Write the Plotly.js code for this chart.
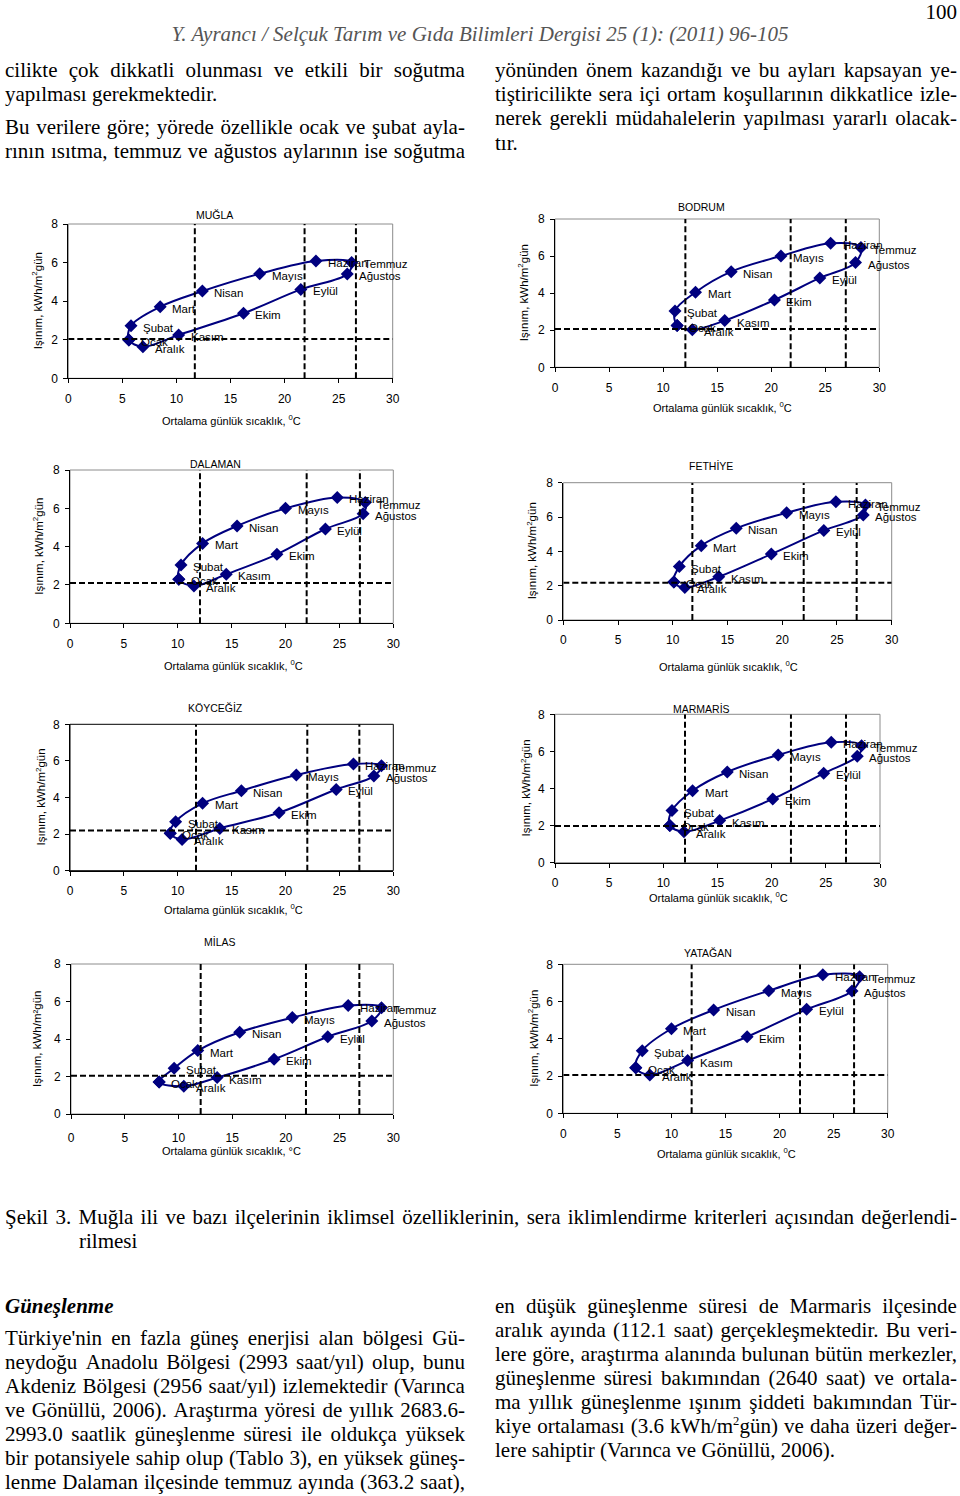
<!DOCTYPE html>
<html><head><meta charset="utf-8">
<script src="https://cdn.plot.ly/plotly-3.0.1.min.js"></script>
<style>
body{margin:0;background:#fff;}
#page{position:relative;width:960px;height:1496px;overflow:hidden;background:#fff;}
#plot{position:absolute;left:0;top:0;width:960px;height:1496px;}
.t{position:absolute;font-family:"Liberation Serif","Times New Roman",serif;font-size:21px;line-height:24px;color:#000;white-space:nowrap;}
.j{display:flex;justify-content:space-between;}
.t sup{font-size:0.6em;line-height:0;vertical-align:super;}
</style></head><body><div id="page"><div id="plot"></div></div>
<script>
// ---------- DATA ----------
const months = ["Ocak","Şubat","Mart","Nisan","Mayıs","Haziran","Temmuz","Ağustos","Eylül","Ekim","Kasım","Aralık"];
const stations = ["MUĞLA","BODRUM","DALAMAN","FETHİYE","KÖYCEĞİZ","MARMARİS","MİLAS","YATAĞAN"];

// mean daily temperature (°C) by month
const mugla_temp    = [5.6, 5.8, 8.5, 12.4, 17.7, 22.9, 26.2, 25.8, 21.5, 16.2, 10.2, 6.9];
const bodrum_temp   = [11.3, 11.1, 13.0, 16.3, 20.9, 25.5, 28.3, 27.8, 24.5, 20.3, 15.7, 12.7];
const dalaman_temp  = [10.1, 10.3, 12.3, 15.5, 20.0, 24.8, 27.4, 27.2, 23.7, 19.2, 14.5, 11.5];
const fethiye_temp  = [10.1, 10.6, 12.6, 15.8, 20.4, 24.9, 27.6, 27.4, 23.8, 19.0, 14.2, 11.1];
const koycegiz_temp = [9.3, 9.8, 12.3, 15.9, 21.0, 26.3, 28.9, 28.2, 24.7, 19.4, 13.9, 10.4];
const marmaris_temp = [10.6, 10.8, 12.7, 15.9, 20.6, 25.5, 28.3, 27.9, 24.8, 20.1, 15.2, 11.9];
const milas_temp    = [8.2, 9.6, 11.8, 15.7, 20.6, 25.8, 28.9, 28.0, 23.9, 18.9, 13.6, 10.5];
const yatagan_temp  = [6.7, 7.3, 10.0, 13.9, 19.0, 24.0, 27.4, 26.7, 22.5, 17.0, 11.5, 8.0];

// solar radiation (kWh/m2 gün) by month
const mugla_rad    = [1.99, 2.73, 3.71, 4.52, 5.42, 6.08, 6.01, 5.41, 4.61, 3.37, 2.25, 1.64];
const bodrum_rad   = [2.25, 3.04, 4.05, 5.16, 6.00, 6.69, 6.46, 5.65, 4.82, 3.63, 2.52, 2.02];
const dalaman_rad  = [2.30, 3.04, 4.17, 5.08, 6.00, 6.57, 6.30, 5.72, 4.92, 3.60, 2.56, 1.95];
const fethiye_rad  = [2.21, 3.11, 4.33, 5.34, 6.25, 6.89, 6.70, 6.12, 5.22, 3.84, 2.52, 1.90];
const koycegiz_rad = [2.04, 2.68, 3.68, 4.37, 5.23, 5.83, 5.74, 5.17, 4.44, 3.17, 2.31, 1.71];
const marmaris_rad = [2.01, 2.81, 3.88, 4.89, 5.81, 6.49, 6.31, 5.74, 4.82, 3.44, 2.27, 1.67];
const milas_rad    = [1.71, 2.44, 3.38, 4.36, 5.14, 5.78, 5.67, 4.96, 4.12, 2.92, 1.94, 1.48];
const yatagan_rad  = [2.45, 3.36, 4.54, 5.55, 6.58, 7.44, 7.33, 6.57, 5.58, 4.11, 2.83, 2.06];

// criteria reference lines (temperature limits, radiation limit)
const mugla_vlines    = [11.7, 21.85, 26.6];   const mugla_hline = 2.04;
const bodrum_vlines   = [12.06, 21.8, 26.9];   const bodrum_hline = 2.07;
const dalaman_vlines  = [12.06, 21.96, 26.9];  const dalaman_hline = 2.1;
const fethiye_vlines  = [11.79, 21.96, 26.8];  const fethiye_hline = 2.17;
const koycegiz_vlines = [11.69, 22.02, 26.85]; const koycegiz_hline = 2.19;
const marmaris_vlines = [12.0, 21.78, 26.86];  const marmaris_hline = 1.98;
const milas_vlines    = [12.07, 21.87, 26.84]; const milas_hline = 2.04;
const yatagan_vlines  = [11.87, 21.89, 26.89]; const yatagan_hline = 2.06;

const xTicks = [0, 5, 10, 15, 20, 25, 30];
const yTicks = [0, 2, 4, 6, 8];

// ---------- LAYOUT CONFIG (pixels) ----------
const W = 960, H = 1496;
const charts = [
  {t: mugla_temp, r: mugla_rad, v: mugla_vlines, h: mugla_hline, box: [68.3, 392.7, 224, 378.3], title: [214, 215], xt: [231, 420], yt: 37, frame: "#8c8c8c"},
  {t: bodrum_temp, r: bodrum_rad, v: bodrum_vlines, h: bodrum_hline, box: [555, 879.3, 219, 367.3], title: [701, 207], xt: [722, 407], yt: 523, frame: "#8c8c8c"},
  {t: dalaman_temp, r: dalaman_rad, v: dalaman_vlines, h: dalaman_hline, box: [70, 393.3, 470, 623.3], title: [215, 464], xt: [233, 665], yt: 38, frame: "#8c8c8c"},
  {t: fethiye_temp, r: fethiye_rad, v: fethiye_vlines, h: fethiye_hline, box: [563.3, 891.7, 482.7, 620], title: [711, 466], xt: [728, 666], yt: 532, frame: "#8c8c8c"},
  {t: koycegiz_temp, r: koycegiz_rad, v: koycegiz_vlines, h: koycegiz_hline, box: [70, 393.3, 724.3, 870.7], title: [215, 708], xt: [233, 909], yt: 40, frame: "#000000"},
  {t: marmaris_temp, r: marmaris_rad, v: marmaris_vlines, h: marmaris_hline, box: [555, 880, 714.3, 862.7], title: [701, 709], xt: [718, 897], yt: 525, frame: "#8c8c8c"},
  {t: milas_temp, r: milas_rad, v: milas_vlines, h: milas_hline, box: [71, 393.3, 964, 1114], title: [220, 942], xt: [231, 1151], yt: 37, frame: "#8c8c8c", deg: true},
  {t: yatagan_temp, r: yatagan_rad, v: yatagan_vlines, h: yatagan_hline, box: [563.3, 887.7, 964.3, 1113.3], title: [708, 953], xt: [726, 1153], yt: 533, frame: "#8c8c8c"}
];

const NAVY = "#00007f";
const FONT = "Liberation Sans, Arial, sans-serif";
const px = v => v / W, py = v => 1 - v / H;

const traces = [], shapes = [], annotations = [];
const layout = {
  width: W, height: H, margin: {l: 0, r: 0, t: 0, b: 0},
  paper_bgcolor: "#fff", plot_bgcolor: "rgba(0,0,0,0)",
  showlegend: false, font: {family: FONT, size: 11, color: "#000"},
  shapes: shapes, annotations: annotations
};

charts.forEach((c, i) => {
  const n = i + 1, xa = "x" + n, ya = "y" + n;
  const xk = "xaxis" + (n === 1 ? "" : n), yk = "yaxis" + (n === 1 ? "" : n);
  const [l, r, t, b] = c.box;
  layout[xk] = {domain: [px(l), px(r)], range: [0, 30], anchor: ya, tickvals: xTicks,
    showgrid: false, zeroline: false, showline: true, linecolor: "#000", linewidth: 1,
    ticks: "outside", ticklen: 4, tickcolor: "#000", tickfont: {size: 12, family: FONT},
    ticklabelstandoff: n === 7 ? 9 : 5, fixedrange: true};
  layout[yk] = {domain: [py(b), py(t)], range: [0, 8], anchor: xa, tickvals: yTicks,
    showgrid: false, zeroline: false, showline: true, linecolor: "#000", linewidth: 1,
    ticks: "outside", ticklen: 4, tickcolor: "#000", tickfont: {size: 12, family: FONT},
    ticklabelstandoff: 3, fixedrange: true};

  // plot-area frame
  shapes.push({type: "rect", xref: xa + " domain", yref: ya + " domain", x0: 0, x1: 1, y0: 0, y1: 1,
    line: {color: c.frame, width: 1}, layer: "below"});
  // reference dashed lines
  c.v.forEach(v => shapes.push({type: "line", xref: xa, yref: ya, x0: v, x1: v, y0: 0, y1: 8,
    line: {color: "#000", width: 2, dash: "6px,3px"}}));
  shapes.push({type: "line", xref: xa, yref: ya, x0: 0, x1: 30, y0: c.h, y1: c.h,
    line: {color: "#000", width: 2, dash: "6px,3px"}});

  // closed loop curve through the 12 months
  traces.push({type: "scatter", mode: "lines+markers", xaxis: xa, yaxis: ya,
    x: c.t.concat([c.t[0]]), y: c.r.concat([c.r[0]]),
    line: {color: NAVY, width: 2, shape: "spline", smoothing: 1},
    marker: {symbol: "diamond", size: 10, color: NAVY}, hoverinfo: "skip"});

  // month labels
  months.forEach((m, k) => annotations.push({xref: xa, yref: ya, x: c.t[k], y: c.r[k], text: m,
    showarrow: false, xanchor: "left", yanchor: "middle", xshift: 10, yshift: -2,
    font: {size: 11.5, family: FONT, color: "#000"}}));

  // chart title
  annotations.push({xref: "paper", yref: "paper", x: px(c.title[0]), y: py(c.title[1]), text: stations[i],
    showarrow: false, xanchor: "center", yanchor: "middle", font: {size: 10.5, family: FONT}});
  // x title
  annotations.push({xref: "paper", yref: "paper", x: px(c.xt[0]), y: py(c.xt[1]),
    text: c.deg ? "Ortalama günlük sıcaklık, °C" : "Ortalama günlük sıcaklık, <sup>0</sup>C",
    showarrow: false, xanchor: "center", yanchor: "middle", font: {size: 11, family: FONT}});
  // y title
  annotations.push({xref: "paper", yref: "paper", x: px(c.yt), y: py((t + b) / 2),
    text: c.deg ? "Işınım, kWh/m²gün" : "Işınım, kWh/m<sup>2</sup>gün", textangle: -90,
    showarrow: false, xanchor: "center", yanchor: "middle", font: {size: 11.5, family: FONT}});
});

Plotly.newPlot("plot", traces, layout, {displayModeBar: false, staticPlot: true});

// ---------- PAGE TEXT ----------
const page = document.getElementById("page");
function line(html, x, y, w, justify, style) {
  const d = document.createElement("div");
  d.className = "t";
  d.style.left = x + "px";
  d.style.top = (y - 12) + "px";
  if (justify) {
    d.classList.add("j");
    d.style.width = w + "px";
    html.split(" ").forEach(wd => { const s = document.createElement("span"); s.innerHTML = wd; d.appendChild(s); });
  } else {
    d.innerHTML = html;
    if (w) d.style.width = w + "px";
  }
  if (style) Object.assign(d.style, style);
  page.appendChild(d);
}

line("100", 0, 12, 957, false, {textAlign: "right"});
line("Y. Ayrancı / Selçuk Tarım ve Gıda Bilimleri Dergisi 25 (1): (2011) 96-105", 0, 34, 960, false,
  {textAlign: "center", fontStyle: "italic", color: "#555"});

const topLeft = [
  ["cilikte çok dikkatli olunması ve etkili bir soğutma", 70, true],
  ["yapılması gerekmektedir.", 94, false],
  ["Bu verilere göre; yörede özellikle ocak ve şubat ayla-", 127, true],
  ["rının ısıtma, temmuz ve ağustos aylarının ise soğutma", 151, true]
];
const topRight = [
  ["yönünden önem kazandığı ve bu ayları kapsayan ye-", 70, true],
  ["tiştiricilikte sera içi ortam koşullarının dikkatlice izle-", 94, true],
  ["nerek gerekli müdahalelerin yapılması yararlı olacak-", 118, true],
  ["tır.", 143, false]
];
topLeft.forEach(a => line(a[0], 5, a[1], 460, a[2]));
topRight.forEach(a => line(a[0], 495, a[1], 462, a[2]));

line("Şekil 3. Muğla ili ve bazı ilçelerinin iklimsel özelliklerinin, sera iklimlendirme kriterleri açısından değerlendi-", 5, 1217, 952, true);
line("rilmesi", 79, 1241, 0, false);
line("Güneşlenme", 5, 1306, 0, false, {fontStyle: "italic", fontWeight: "bold"});

const botLeft = [
  ["Türkiye'nin en fazla güneş enerjisi alan bölgesi Gü-", 1338, true],
  ["neydoğu Anadolu Bölgesi (2993 saat/yıl) olup, bunu", 1362, true],
  ["Akdeniz Bölgesi (2956 saat/yıl) izlemektedir (Varınca", 1386, true],
  ["ve Gönüllü, 2006). Araştırma yöresi de yıllık 2683.6-", 1410, true],
  ["2993.0 saatlik güneşlenme süresi ile oldukça yüksek", 1434, true],
  ["bir potansiyele sahip olup (Tablo 3), en yüksek güneş-", 1458, true],
  ["lenme Dalaman ilçesinde temmuz ayında (363.2 saat),", 1482, true]
];
const botRight = [
  ["en düşük güneşlenme süresi de Marmaris ilçesinde", 1306, true],
  ["aralık ayında (112.1 saat) gerçekleşmektedir. Bu veri-", 1330, true],
  ["lere göre, araştırma alanında bulunan bütün merkezler,", 1354, true],
  ["güneşlenme süresi bakımından (2640 saat) ve ortala-", 1378, true],
  ["ma yıllık güneşlenme ışınım şiddeti bakımından Tür-", 1402, true],
  ["kiye ortalaması (3.6 kWh/m<sup>2</sup>gün) ve daha üzeri değer-", 1426, true],
  ["lere sahiptir (Varınca ve Gönüllü, 2006).", 1450, false]
];
botLeft.forEach(a => line(a[0], 5, a[1], 460, a[2]));
botRight.forEach(a => line(a[0], 495, a[1], 462, a[2]));
</script></body></html>
